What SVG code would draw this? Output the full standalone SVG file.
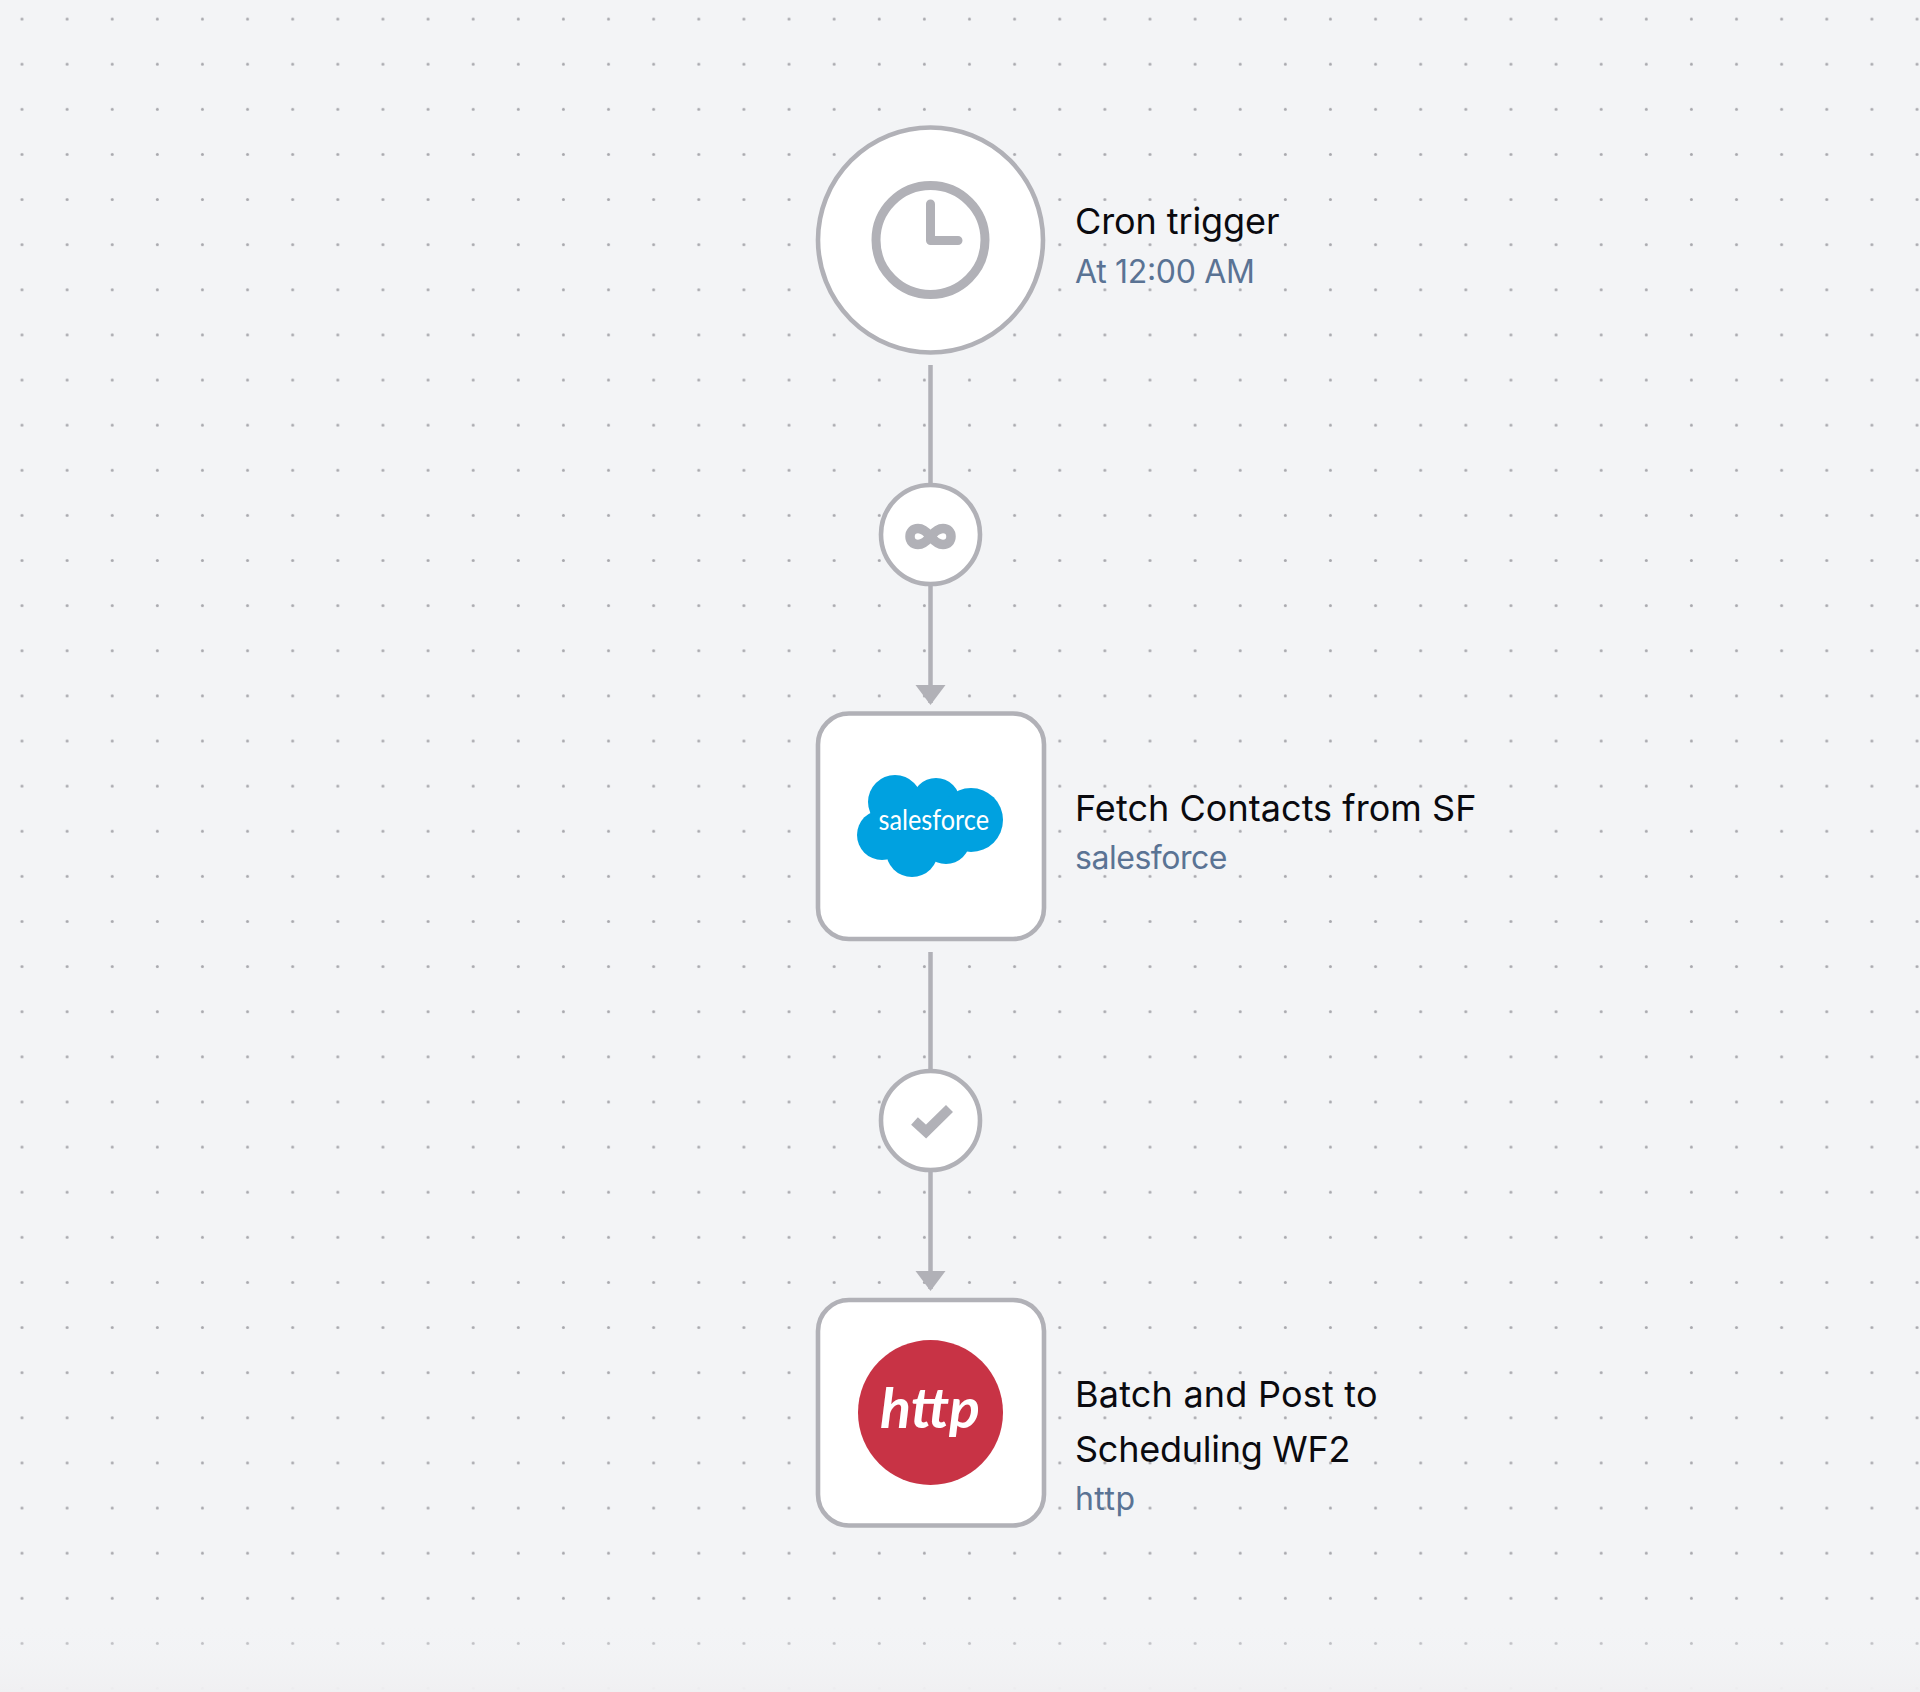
<svg xmlns="http://www.w3.org/2000/svg" width="1920" height="1692" viewBox="0 0 1920 1692">
<style>
.shape{fill:#fff;stroke:#b1b1b7;stroke-width:4.6}
.edge{fill:none;stroke:#b1b1b7;stroke-width:4.5}
.icon{fill:none;stroke:#b1b1b7;stroke-width:9}
.title{font-family:Inter,"Liberation Sans",sans-serif;font-size:36px;fill:#0a0a0f}
.sub{font-family:Inter,"Liberation Sans",sans-serif;font-size:32px;fill:#5a7394}
</style>
<defs>
<pattern id="dots" x="0" y="-3" width="45.12" height="45.12" patternUnits="userSpaceOnUse">
<circle cx="22" cy="22" r="1.5" fill="#a8a8ad"/>
</pattern>
<linearGradient id="fade" x1="0" y1="0" x2="0" y2="1">
<stop offset="0" stop-color="#f3f4f6" stop-opacity="0"/>
<stop offset="1" stop-color="#f0f0f2"/>
</linearGradient>
<marker id="arrow" markerUnits="userSpaceOnUse" markerWidth="22" markerHeight="32" refX="18" refY="16" orient="auto" viewBox="0 0 22 32">
<path d="M0 1L20 16L0 31Z" fill="#b1b1b7"/>
</marker>
</defs>
<rect id="background" width="1920" height="1692" fill="#f3f4f6"/>
<rect width="1920" height="1692" fill="url(#dots)"/>
<rect y="1620" width="1920" height="72" fill="url(#fade)"/>

<g id="connectors">
<path class="edge" d="M930.5 365V484"/>
<path class="edge" d="M930.5 586V703" marker-end="url(#arrow)"/>
<path class="edge" d="M930.5 952V1071"/>
<path class="edge" d="M930.5 1172V1289" marker-end="url(#arrow)"/>
</g>

<g id="node-cron">
<circle class="shape" cx="930.5" cy="240" r="112.5"/>
<circle class="icon" cx="930.5" cy="240" r="54.5"/>
<path class="icon" stroke-linecap="round" stroke-linejoin="round" d="M930.5 204V240.500H958"/>
<text class="title" x="1075" y="234" textLength="204.500">Cron trigger</text>
<text class="sub" x="1075" y="283" textLength="180">At 12:00 AM</text>
</g>

<g id="node-loop">
<circle class="shape" cx="930.500" cy="534.500" r="49.500"/>
<path class="icon" style="stroke-width:9.500" d="M930.500 536.500C926 531 922 528.500 918 528.500C913 528.500 910 532 910 536.500C910 541 913 544.500 918 544.500C922 544.500 926 542 930.500 536.500C935 531 939 528.500 943 528.500C948 528.500 951 532 951 536.500C951 541 948 544.500 943 544.500C939 544.500 935 542 930.500 536.500Z"/>
</g>

<g id="node-salesforce">
<rect class="shape" x="818" y="713.500" width="226" height="225.500" rx="31"/>
<g fill="#00a1e0">
<circle cx="895" cy="802" r="27"/>
<circle cx="936" cy="802" r="24"/>
<circle cx="971" cy="820" r="32"/>
<circle cx="882" cy="835" r="25"/>
<circle cx="912" cy="851" r="26"/>
<circle cx="946" cy="840" r="24"/>
<rect x="885" y="800" width="80" height="50"/>
</g>
<text x="878.500" y="830" font-family="Lato,'Liberation Sans',sans-serif" font-size="29" fill="#fff" textLength="110.500" lengthAdjust="spacingAndGlyphs">salesforce</text>
<text class="title" x="1075" y="821" textLength="401.500">Fetch Contacts from SF</text>
<text class="sub" x="1075" y="869" textLength="152.500">salesforce</text>
</g>

<g id="node-success">
<circle class="shape" cx="930.500" cy="1120.500" r="49.500"/>
<path d="M914.500 1121L926 1131.500L949.500 1108.500" fill="none" stroke="#b1b1b7" stroke-width="10"/>
</g>

<g id="node-http">
<rect class="shape" x="818" y="1300" width="226" height="225.500" rx="31"/>
<circle cx="930.500" cy="1412.500" r="72.500" fill="#c83345"/>
<text x="880" y="1428" font-family="Lato,'Liberation Sans',sans-serif" font-style="italic" font-weight="700" font-size="56" fill="#fff" textLength="100" lengthAdjust="spacingAndGlyphs">http</text>
<text class="title" x="1075" y="1407" textLength="302.500">Batch and Post to</text>
<text class="title" x="1075" y="1462" textLength="275.500">Scheduling WF2</text>
<text class="sub" x="1075" y="1510" textLength="60">http</text>
</g>
</svg>
